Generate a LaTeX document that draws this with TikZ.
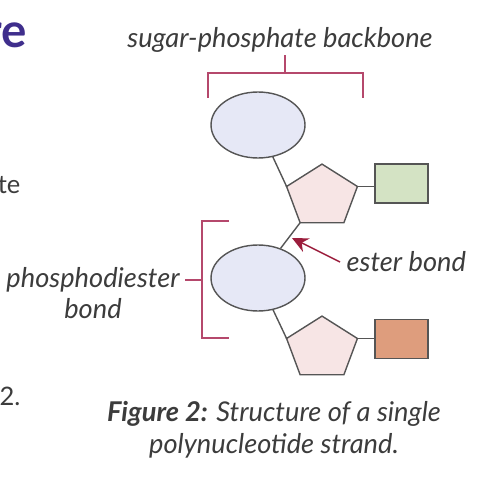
\documentclass[tikz,border=0pt]{standalone}
\usepackage{fontspec}
\setmainfont{Lato}
\usepackage{xcolor}
\usetikzlibrary{arrows.meta,positioning,shapes.geometric}

\definecolor{brkcol}{HTML}{B5486C}
\definecolor{arrcol}{HTML}{9B1D3C}
\definecolor{txtcol}{HTML}{3C3C3C}
\definecolor{edgecol}{HTML}{555555}
\definecolor{phoscol}{HTML}{E6E8F6}
\definecolor{sugcol}{HTML}{F7E5E5}
\definecolor{basecolA}{HTML}{D4E3C4}
\definecolor{basecolB}{HTML}{DE9D7D}
\definecolor{headcol}{HTML}{3F2E8C}

\tikzset{
    phosphate/.style={draw=edgecol, fill=phoscol, ellipse, inner sep=0pt,
                      minimum width=1.88cm, minimum height=1.32cm},
    sugar/.style={draw=edgecol, fill=sugcol, regular polygon, regular polygon sides=5,
                  inner sep=0pt, outer sep=0pt, minimum size=1.49cm, yscale=0.87},
    base/.style={draw=edgecol, inner sep=0pt, minimum width=1.06cm, minimum height=0.78cm},
    bond/.style={draw=edgecol, thick},
    bracket/.style={draw=brkcol, thick},
    lbl/.style={text=txtcol, font=\fontsize{15.5}{18}\selectfont\itshape},
    frag/.style={anchor=base east, inner sep=0pt, text=txtcol,
                 font=\fontsize{14.5}{18}\selectfont}
}

\begin{document}
\begin{tikzpicture}[x=0.02cm, y=-0.02cm, line width=0.8pt]
                \useasboundingbox (0,0) rectangle (489,500);

                % text running in from the page edge
                \node [frag, text=headcol, font=\fontsize{27}{30}\selectfont\bfseries]
                            (frag1) at (28,48) {re};
                \node [frag] (frag2) at (21,193) {te};
                \node [frag] (frag3) at (21,405) {2.};

                % nucleotides
                \node [phosphate] (phosA) at (258,125) {};
                \node [sugar] (sugA) at (322,196.5) {};
                \node [base, fill=basecolA] (baseA) at (401.5,183.5) {};
                \node [phosphate] (phosB) at (258,278) {};
                \node [sugar] (sugB) at (322,348.5) {};
                \node [base, fill=basecolB] (baseB) at (401.5,339) {};

                \draw [bond] (phosA) -- (sugA.corner 2);
                \draw [bond] (sugA.corner 5) -- (sugA.corner 5 -| baseA.west);
                \draw [bond] (sugA.corner 3) -- (phosB);
                \draw [bond] (phosB) -- (sugB.corner 2);
                \draw [bond] (sugB.corner 5) -- (sugB.corner 5 -| baseB.west);

                % labels
                \node [lbl] (backbone) at (280,40) {sugar-phosphate backbone};
                \draw [bracket] (208,98) -- (208,73) -- (363,73) -- (363,98);
                \draw [bracket] (285,73) -- (285,55);

                \node [lbl, align=center] (diester) at (93,293)
                            {phosphodiester\\bond};
                \draw [bracket] (229,221) -- (202,221) -- (202,338) -- (229,338);
                \draw [bracket] (202,280) -- (185,280);

                \node [lbl, anchor=west] (ester) at (340,262) {ester bond};
                \coordinate (esterpt) at (292,238);
                \draw [arrcol, thick, -{Stealth[length=3.2mm,width=3mm]}]
                            (ester.west) -- (esterpt);

                \node [lbl, align=center] (caption) at (274,430)
                            {\textbf{Figure 2:} Structure of a single\\polynucleotide strand.};
            \end{tikzpicture}
\end{document}
